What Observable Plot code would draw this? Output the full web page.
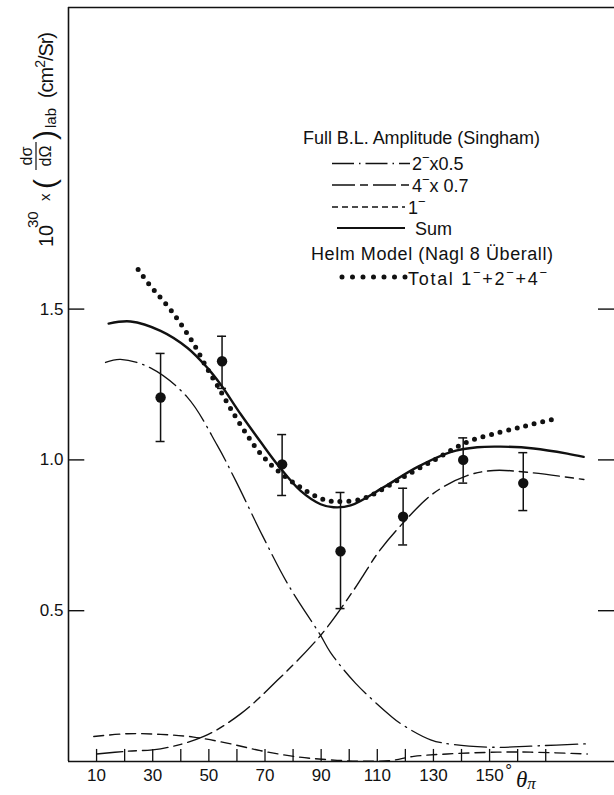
<!DOCTYPE html>
<html><head><meta charset="utf-8">
<script src="https://cdn.jsdelivr.net/npm/d3@7"></script>
<script src="https://cdn.jsdelivr.net/npm/@observablehq/plot@0.6"></script>
<style>
html,body{margin:0;padding:0;background:#fff;}
#chart svg{display:block;}
</style></head><body><div id="chart"></div>
<script>
// ---- tick values ----
const xTicks = [10,20,30,40,50,60,70,80,90,100,110,120,130,140,150,160,170];
const xLabels = [10,30,50,70,90,110,130,150];
const yTicks = [0.5,1.0,1.5];

// ---- measured cross sections (filled circles with error bars) ----
const obsAngle = [32.8, 54.7, 76.1, 96.9, 119.2, 140.6, 162.0];
const obsValue = [1.207, 1.327, 0.985, 0.697, 0.812, 1.000, 0.923];
const obsUpper = [1.353, 1.410, 1.084, 0.892, 0.906, 1.073, 1.024];
const obsLower = [1.061, 1.237, 0.882, 0.507, 0.718, 0.923, 0.832];

// ---- Full B.L. amplitude: Sum (solid) ----
const sumAngle = [14.3, 22.1, 32.8, 42.3, 49.4, 54.2, 61.3, 68.4, 74.4, 82.7, 89.8, 94.4, 100.5, 112.2, 124.2, 136.1, 145.6, 153.9, 165.7, 177.7, 183.5];
const sumValue = [1.452, 1.459, 1.428, 1.372, 1.306, 1.250, 1.152, 1.060, 0.985, 0.897, 0.853, 0.843, 0.849, 0.909, 0.976, 1.026, 1.042, 1.044, 1.038, 1.021, 1.010];

// ---- Helm model total (dotted) ----
const totalAngle = [24.8, 28.5, 37.4, 44.5, 49.4, 53.0, 57.7, 63.7, 68.4, 73.7, 83.3, 90.8, 95.7, 104.0, 110.0, 118.3, 130.0, 142.0, 153.9, 163.4, 172.0];
const totalValue = [1.631, 1.585, 1.485, 1.386, 1.303, 1.247, 1.171, 1.081, 1.021, 0.971, 0.905, 0.869, 0.862, 0.869, 0.893, 0.938, 0.998, 1.059, 1.092, 1.114, 1.133];

// ---- 2- x 0.5 (dash-dot) ----
const twoAngle = [13.2, 18.5, 29.2, 42.3, 53.0, 59.5, 69.1, 78.4, 89.8, 93.3, 102.2, 115.3, 118.9, 129.0, 137.3, 152.7, 164.6, 185.4];
const twoValue = [1.323, 1.333, 1.305, 1.208, 1.048, 0.932, 0.749, 0.584, 0.418, 0.362, 0.260, 0.147, 0.122, 0.072, 0.056, 0.047, 0.051, 0.059];

// ---- 4- x 0.7 (long-short dash) ----
const fourAngle = [10.0, 20.9, 32.8, 48.2, 61.3, 74.4, 89.8, 101.5, 104.6, 110.4, 118.3, 130.0, 142.0, 151.5, 163.4, 183.6];
const fourValue = [0.025, 0.034, 0.042, 0.083, 0.158, 0.269, 0.418, 0.567, 0.611, 0.694, 0.782, 0.889, 0.948, 0.965, 0.959, 0.935];

// ---- 1- (dashed) ----
const oneAngle = [9.0, 20.9, 32.8, 44.6, 56.5, 68.4, 80.3, 92.2, 104.0, 114.7, 123.0, 134.9, 152.7, 164.6, 184.8];
const oneValue = [0.083, 0.092, 0.090, 0.081, 0.061, 0.036, 0.017, 0.006, 0.001, 0.003, 0.017, 0.025, 0.031, 0.031, 0.025];

const xDomain = [0, 194.5];
const yDomain = [0, 2.5];

const zip = (a, v) => a.map((x, i) => ({x, y: v[i]}));
const obs = obsAngle.map((x, i) => ({x, y: obsValue[i], hi: obsUpper[i], lo: obsLower[i]}));

const F = "Liberation Sans, Arial, sans-serif";
const INK = "#111";
const DASH2 = "32 6 1.5 6";
const DASH4 = "26 6 8 6";
const DASH1 = "10 6";

const chart = Plot.plot({
  width: 614, height: 795,
  marginLeft: 68, marginRight: 0, marginTop: 7, marginBottom: 34,
  x: {domain: xDomain, axis: null},
  y: {domain: yDomain, axis: null},
  style: {fontFamily: F, background: "white", color: INK, overflow: "visible"},
  marks: [
    // frame (left, top, bottom)
    Plot.ruleX([xDomain[0]], {y1: yDomain[0], y2: yDomain[1], stroke: INK, strokeWidth: 1.6}),
    Plot.ruleY(yDomain, {x1: xDomain[0], x2: xDomain[1], stroke: INK, strokeWidth: 1.6}),
    // inward ticks
    Plot.ruleY(yTicks, {x1: xDomain[0], x2: 5.8, stroke: INK, strokeWidth: 1.4}),
    Plot.ruleY(yTicks, {x1: 188.8, x2: xDomain[1], stroke: INK, strokeWidth: 1.4}),
    Plot.ruleX(xTicks, {y1: 0, y2: 0.04, stroke: INK, strokeWidth: 1.3}),
    // tick labels
    Plot.text(yTicks, {x: xDomain[0], y: d => d, text: d => d.toFixed(1), textAnchor: "end", dx: -5, fontSize: 17, fill: INK}),
    Plot.text(xLabels, {x: d => d, y: 0, text: d => String(d), dy: 14, fontSize: 17, lineAnchor: "middle", fill: INK}),
    Plot.text([150], {x: d => d, y: 0, text: () => "°", dx: 19, dy: 9, fontSize: 17, lineAnchor: "middle", fill: INK}),
    // theory curves
    Plot.line(zip(oneAngle, oneValue), {x: "x", y: "y", curve: "catmull-rom", stroke: INK, strokeWidth: 1.4, strokeDasharray: DASH1}),
    Plot.line(zip(fourAngle, fourValue), {x: "x", y: "y", curve: "catmull-rom", stroke: INK, strokeWidth: 1.4, strokeDasharray: DASH4}),
    Plot.line(zip(twoAngle, twoValue), {x: "x", y: "y", curve: "catmull-rom", stroke: INK, strokeWidth: 1.3, strokeDasharray: DASH2}),
    Plot.line(zip(sumAngle, sumValue), {x: "x", y: "y", curve: "catmull-rom", stroke: INK, strokeWidth: 2.4}),
    Plot.line(zip(totalAngle, totalValue), {x: "x", y: "y", curve: "catmull-rom", stroke: INK, strokeWidth: 5, strokeDasharray: "0 8.8", strokeLinecap: "round"}),
    // data with error bars
    Plot.ruleX(obs, {x: "x", y1: "lo", y2: "hi", stroke: INK, strokeWidth: 1.5}),
    Plot.ruleY(obs, {y: "hi", x1: d => d.x - 1.6, x2: d => d.x + 1.6, stroke: INK, strokeWidth: 1.5}),
    Plot.ruleY(obs, {y: "lo", x1: d => d.x - 1.6, x2: d => d.x + 1.6, stroke: INK, strokeWidth: 1.5}),
    Plot.dot(obs, {x: "x", y: "y", r: 5.2, fill: INK, stroke: "none"})
  ]
});
document.getElementById("chart").appendChild(chart);

const svg = d3.select(chart);

// text helper with raised "−" superscripts: parts are strings or {sup: "..."}
function richText(parent, x, y, parts, size, len) {
  const t = parent.append("text").attr("x", x).attr("y", y).attr("text-anchor", "start")
    .attr("font-family", F).attr("font-size", size).attr("fill", INK);
  let shift = 0;
  parts.forEach(p => {
    if (typeof p === "string") {
      t.append("tspan").attr("dy", -shift).text(p); shift = 0;
    } else {
      const s = Math.round(size * 0.45);
      t.append("tspan").attr("dy", -s).attr("font-size", size * 0.72).text(p.sup); shift = -s;
    }
  });
  if (len) t.attr("textLength", len).attr("lengthAdjust", "spacing");
  return t;
}
function legendLine(x1, x2, y, dash, w, cap) {
  svg.append("line").attr("x1", x1).attr("x2", x2).attr("y1", y).attr("y2", y)
    .attr("stroke", INK).attr("stroke-width", w)
    .attr("stroke-dasharray", dash).attr("stroke-linecap", cap || "butt");
}

// ---- legend ----
richText(svg, 303, 144, ["Full B.L. Amplitude (Singham)"], 18, 237);
legendLine(332, 410, 163.5, "22 5 1.5 5", 1.3);
richText(svg, 412, 170, ["2", {sup: "−"}, "x0.5"], 18);
legendLine(332, 410, 185, "23 5 8 5", 1.4);
richText(svg, 412, 192, ["4", {sup: "−"}, "x 0.7"], 18);
legendLine(332, 405, 207, "6 4", 1.4);
richText(svg, 408, 213.5, ["1", {sup: "−"}], 18);
legendLine(337, 405, 228, null, 2.2);
richText(svg, 415, 235, ["Sum"], 18);
richText(svg, 311, 260, ["Helm Model (Nagl 8 Überall)"], 18, 242);
legendLine(342, 406, 277, "0 10.5", 5, "round");
richText(svg, 408, 285, ["Total 1", {sup: "−"}, "+2", {sup: "−"}, "+4", {sup: "−"}], 18, 139);

// ---- x axis title ----
const xt = svg.append("text").attr("x", 516).attr("y", 787).attr("text-anchor", "start")
  .attr("font-family", "Liberation Serif, serif").attr("font-style", "italic").attr("fill", INK);
xt.append("tspan").attr("font-size", 23).text("θ");
xt.append("tspan").attr("font-size", 17).attr("dy", 2).text("π");

// ---- y axis title (rotated) ----
const g = svg.append("g").attr("transform", "translate(53,247) rotate(-90)")
  .attr("font-family", F).attr("fill", INK).attr("text-anchor", "start");
g.append("text").attr("x", 0).attr("y", 0).attr("font-size", 20).text("10");
g.append("text").attr("x", 19).attr("y", -15).attr("font-size", 15).text("30");
g.append("text").attr("x", 46).attr("y", -3).attr("font-size", 15).text("x");
g.append("text").attr("x", 58).attr("y", 2).attr("font-size", 30).text("(");
g.append("text").attr("x", 91).attr("y", -21).attr("font-size", 16).attr("text-anchor", "middle").text("dσ");
g.append("line").attr("x1", 77).attr("x2", 105).attr("y1", -17).attr("y2", -17).attr("stroke", INK).attr("stroke-width", 1.2);
g.append("text").attr("x", 91).attr("y", -2).attr("font-size", 16).attr("text-anchor", "middle").text("dΩ");
g.append("text").attr("x", 107).attr("y", 2).attr("font-size", 30).text(")");
g.append("text").attr("x", 119).attr("y", 3).attr("font-size", 15).text("lab");
const cm = g.append("text").attr("x", 149).attr("y", 0).attr("font-size", 20);
cm.append("tspan").text("(cm");
cm.append("tspan").attr("dy", -8).attr("font-size", 14).text("2");
cm.append("tspan").attr("dy", 8).text("/Sr)");
cm.attr("textLength", 66).attr("lengthAdjust", "spacing");
</script>
</body></html>
